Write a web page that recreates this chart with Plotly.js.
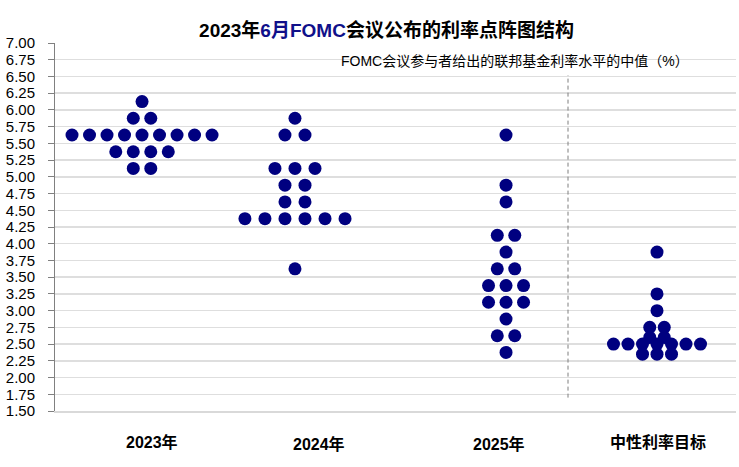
<!DOCTYPE html>
<html>
<head>
<meta charset="utf-8">
<script src="https://cdn.plot.ly/plotly-3.0.1.min.js"></script>
<style>html,body{margin:0;padding:0;background:#fff;}#chart{width:739px;height:467px;}</style>
</head>
<body>
<div id="chart"></div>
<script>
// ---------- data ----------
const groupLabels = ['2023年', '2024年', '2025年', '中性利率目标'];
const rates2023 = [6.125, 5.875, 5.875,
  5.625, 5.625, 5.625, 5.625, 5.625, 5.625, 5.625, 5.625, 5.625,
  5.375, 5.375, 5.375, 5.375, 5.125, 5.125];
const rates2024 = [5.875, 5.625, 5.625, 5.125, 5.125, 5.125, 4.875, 4.875,
  4.625, 4.625, 4.375, 4.375, 4.375, 4.375, 4.375, 4.375, 3.625];
const rates2025 = [5.625, 4.875, 4.625, 4.125, 4.125, 3.875, 3.625, 3.625,
  3.375, 3.375, 3.375, 3.125, 3.125, 3.125, 2.875, 2.625, 2.625, 2.375];
const ratesLonger = [3.875, 3.25, 3.0, 2.75, 2.75, 2.6, 2.6,
  2.5, 2.5, 2.5, 2.5, 2.5, 2.5, 2.5, 2.35, 2.35, 2.35];
const yTickVals = [1.5,1.75,2,2.25,2.5,2.75,3,3.25,3.5,3.75,4,4.25,4.5,4.75,5,5.25,5.5,5.75,6,6.25,6.5,6.75,7];
const legendText = 'FOMC会议参与者给出的联邦基金利率水平的中值（%）';

// ---------- layout config (positions / styles) ----------
const groups = [rates2023, rates2024, rates2025, ratesLonger];
const groupCenter = [1.278, 3.524, 6.623, 8.84];   // x-axis units
const groupSpacing = [0.257, 0.294, 0.257, 0.213];
const labelPos = [[0.143, -0.083], [0.387, -0.090], [0.652, -0.090], [0.886, -0.083]];
const dividerX = 7.533;
const DOT = '#000080';
const FONT = 'Liberation Sans, Arial, "Noto Sans CJK SC", sans-serif';

// beeswarm-style layout: dots with the same value are spread evenly around the group centre
function dodge(values, center, spacing) {
  const rows = {};
  values.forEach(v => { (rows[v] = rows[v] || []).push(v); });
  const xs = [], ys = [];
  Object.keys(rows).forEach(k => {
    const n = rows[k].length;
    rows[k].forEach((v, i) => { xs.push(center + (i - (n - 1) / 2) * spacing); ys.push(v); });
  });
  return {xs, ys};
}

const traces = groups.map((vals, g) => {
  const d = dodge(vals, groupCenter[g], groupSpacing[g]);
  return {
    type: 'scatter', mode: 'markers', x: d.xs, y: d.ys,
    name: groupLabels[g], hoverinfo: 'y',
    marker: {color: DOT, size: 13, line: {width: 0}}
  };
});

const annotations = groupLabels.map((t, i) => ({
  text: t, xref: 'paper', yref: 'paper', x: labelPos[i][0], y: labelPos[i][1],
  xanchor: 'center', yanchor: 'middle', showarrow: false,
  font: {family: FONT, size: 16, color: '#000', weight: 'bold'}
}));
annotations.push({
  text: legendText, xref: 'paper', yref: 'paper', x: 0.6755, y: 0.951,
  xanchor: 'center', yanchor: 'middle', showarrow: false,
  font: {family: FONT, size: 14, color: '#000'}
});

const layout = {
  width: 739, height: 467,
  margin: {l: 55, r: 3, t: 43, b: 56},
  paper_bgcolor: '#fff', plot_bgcolor: '#fff',
  showlegend: false,
  title: {
    text: '<b>2023年<span style="color:#10108a">6月FOMC</span>会议公布的利率点阵图结构</b>',
    x: 0.523, xanchor: 'center', xref: 'container',
    y: 0.934, yanchor: 'middle', yref: 'container',
    font: {family: FONT, size: 19, color: '#000'}
  },
  xaxis: {
    range: [0, 10], showgrid: false, zeroline: false, showticklabels: false,
    ticks: '', showline: true, linecolor: '#d9d9d9', linewidth: 1.5, fixedrange: true
  },
  yaxis: {
    range: [1.5, 7.0], tickvals: yTickVals, tickformat: '.2f',
    showgrid: true, gridcolor: '#dedede', gridwidth: 1.5, zeroline: false,
    showline: true, linecolor: '#808080', linewidth: 1,
    ticks: 'outside', ticklen: 6, tickcolor: '#808080', tickwidth: 1,
    ticklabelstandoff: 10,
    tickfont: {family: FONT, size: 15, color: '#000'}, fixedrange: true
  },
  shapes: [{
    type: 'line', xref: 'x', yref: 'y', x0: dividerX, x1: dividerX, y0: 1.7, y1: 6.52,
    line: {color: '#7f7f7f', width: 1, dash: '4px,3px'}
  }],
  annotations: annotations
};

Plotly.newPlot('chart', traces, layout, {displayModeBar: false, staticPlot: true});
</script>
</body>
</html>
